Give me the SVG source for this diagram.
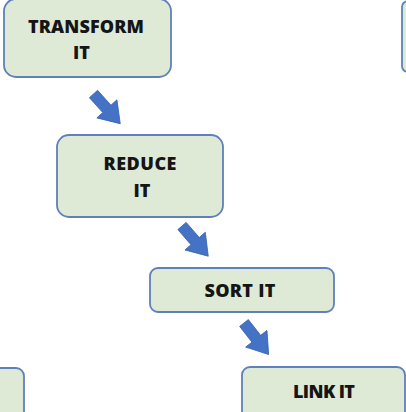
<svg xmlns="http://www.w3.org/2000/svg" width="406" height="412" viewBox="0 0 406 412">
<defs>
<style>
.box{fill:#dfead6;stroke:#5f80ba;stroke-width:1.8}
.lbl{font-family:"Open Sans","Liberation Sans",sans-serif;font-weight:800;font-size:18px;fill:#151515;text-anchor:middle}
.arr{fill:#4472c4;stroke:#3b64ad;stroke-width:0.8}
</style>
<path id="arrow" d="M0,-5.5 L20,-5.5 L20,-13.5 L40,0 L20,13.5 L20,5.5 L0,5.5 Z"/>
</defs>
<rect width="406" height="412" fill="#ffffff"/>
<g id="connectors">
<use href="#arrow" class="arr" transform="translate(93.5,94) rotate(48)"/>
<use href="#arrow" class="arr" transform="translate(182,226) rotate(49)"/>
<use href="#arrow" class="arr" transform="translate(244,323) rotate(52)"/>
</g>
<g id="node-transform">
<rect class="box" x="4" y="-1" width="167" height="78" rx="12"/>
<text class="lbl" x="86" y="33" textLength="116">TRANSFORM</text>
<text class="lbl" x="81.5" y="59">IT</text>
</g>
<g id="node-reduce">
<rect class="box" x="57" y="135" width="166" height="82" rx="12"/>
<text class="lbl" x="140" y="170" textLength="73">REDUCE</text>
<text class="lbl" x="142" y="197">IT</text>
</g>
<g id="node-sort">
<rect class="box" x="150" y="268" width="184" height="44" rx="8"/>
<text class="lbl" x="240" y="297" textLength="71">SORT IT</text>
</g>
<g id="node-link">
<rect class="box" x="242" y="367" width="163" height="60" rx="8"/>
<text class="lbl" x="324" y="398" textLength="62">LINK IT</text>
</g>
<g id="node-right-partial">
<rect class="box" x="402" y="1" width="40" height="71" rx="6"/>
</g>
<g id="node-left-partial">
<rect class="box" x="-40" y="368" width="64" height="60" rx="8"/>
</g>
</svg>
